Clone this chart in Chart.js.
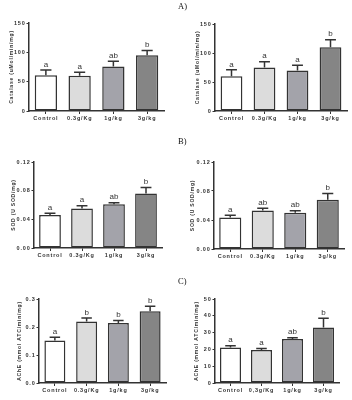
<!DOCTYPE html>
<html><head><meta charset="utf-8">
<script src="https://cdn.jsdelivr.net/npm/chart.js@4/dist/chart.umd.min.js"></script>
<style>
html,body{margin:0;padding:0;background:#fff;}
body{width:352px;height:400px;position:relative;overflow:hidden;}
canvas{position:absolute;}
</style></head><body>
<canvas id="c1" width="176" height="135" style="left:0;top:0"></canvas>
<canvas id="c2" width="176" height="135" style="left:176px;top:0"></canvas>
<canvas id="c3" width="176" height="135" style="left:0;top:135px"></canvas>
<canvas id="c4" width="176" height="135" style="left:176px;top:135px"></canvas>
<canvas id="c5" width="176" height="130" style="left:0;top:270px"></canvas>
<canvas id="c6" width="176" height="130" style="left:176px;top:270px"></canvas>
<script>
// ---- data ----
const categories = ['Control', '0.3g/Kg', '1g/kg', '3g/kg'];
const categoriesComma = ['Control', '0,3g/Kg', '1g/kg', '3g/kg'];

const catalaseLeftMean = [61, 60, 76, 95];
const catalaseLeftSem = [9, 6, 9, 8];
const catalaseLeftSig = ['a', 'a', 'ab', 'b'];

const catalaseRightMean = [60, 75, 70, 110];
const catalaseRightSem = [11, 10, 9, 13];
const catalaseRightSig = ['a', 'a', 'a', 'b'];

const sodLeftMean = [0.046, 0.055, 0.061, 0.076];
const sodLeftSem = [0.0024, 0.004, 0.0023, 0.0084];
const sodLeftSig = ['a', 'a', 'ab', 'b'];

const sodRightMean = [0.0435, 0.053, 0.050, 0.068];
const sodRightSem = [0.0032, 0.0032, 0.0027, 0.0087];
const sodRightSig = ['a', 'ab', 'ab', 'b'];

const acheLeftMean = [0.152, 0.220, 0.214, 0.256];
const acheLeftSem = [0.011, 0.012, 0.009, 0.018];
const acheLeftSig = ['a', 'b', 'b', 'b'];

const acheRightMean = [21.2, 19.6, 26.2, 33.1];
const acheRightSem = [1.0, 1.0, 0.8, 5.4];
const acheRightSig = ['a', 'a', 'ab', 'b'];

const catalaseTicks = ['0', '50', '100', '150'];
const sodTicks = ['0.00', '0.04', '0.08', '0.12'];
const acheLeftTicks = ['0.0', '0.1', '0.2', '0.3'];
const acheRightTicks = ['0', '10', '20', '30', '40', '50'];

const catalaseTitle = 'Catalase (uMol/min/mg)';
const sodTitle = 'SOD (U SOD/mg)';
const acheTitle = 'AChE (mmol ATC/min/mg)';
const panelLetters = ['A)', 'B)', 'C)'];

// ---- style ----
const barColors = ['#ffffff', '#dcdcdc', '#a3a3aa', '#858585'];
const ink = '#333333';

const errPlugin = {
  id: 'errbars',
  beforeUpdate(chart) { chart.ctx.letterSpacing = '0.8px'; },
  afterDatasetsDraw(chart) {
    const ctx = chart.ctx;
    const ys = chart.scales.y;
    const meta = chart.getDatasetMeta(0);
    const o = chart.options.plugins.errbars;
    ctx.save();
    ctx.letterSpacing = '0px';
    ctx.strokeStyle = ink;
    ctx.lineWidth = 1.5;
    ctx.fillStyle = ink;
    ctx.font = '8px "Liberation Sans", Arial, sans-serif';
    ctx.textAlign = 'center';
    ctx.textBaseline = 'bottom';
    meta.data.forEach((bar, i) => {
      const m = o.mean[i], s = o.sem[i];
      const yb = ys.getPixelForValue(m);
      const yt = ys.getPixelForValue(m + s);
      const cw = bar.width * 0.5;
      ctx.beginPath();
      ctx.moveTo(bar.x, yb);
      ctx.lineTo(bar.x, yt);
      ctx.moveTo(bar.x - cw / 2, yt);
      ctx.lineTo(bar.x + cw / 2, yt);
      ctx.stroke();
      ctx.fillText(o.sig[i], bar.x, yt - 1.5);
    });
    if (o.panel) {
      ctx.fillStyle = '#111';
      ctx.font = '8.5px "Liberation Serif", serif';
      ctx.textAlign = 'left';
      ctx.textBaseline = 'top';
      ctx.fillText(o.panel, 2, o.panelY);
    }
    ctx.restore();
  }
};

function panel(id, p) {
  const c = document.getElementById(id);
  const W = c.width, H = c.height;
  new Chart(c, {
    type: 'bar',
    data: {
      labels: p.labels,
      datasets: [{
        data: p.mean,
        backgroundColor: barColors,
        borderColor: ink,
        borderWidth: 1.5,
        borderSkipped: false,
        categoryPercentage: 1,
        barPercentage: p.bp
      }]
    },
    options: {
      responsive: false,
      animation: false,
      devicePixelRatio: 1,
      layout: { padding: { left: 0, top: p.T, right: W - p.R, bottom: 0 } },
      plugins: {
        legend: { display: false },
        tooltip: { enabled: false },
        errbars: { mean: p.mean, sem: p.sem, sig: p.sig, panel: p.panel, panelY: p.panelY }
      },
      scales: {
        x: {
          afterFit(s) { s.height = H - p.B; },
          border: { display: true, color: ink, width: 1.5 },
          grid: { display: true, drawOnChartArea: false, drawTicks: true, tickLength: 3, tickColor: ink, tickWidth: 1, offset: false },
          ticks: { color: ink, padding: 1, font: { family: '"Liberation Sans", Arial, sans-serif', size: 5.5, weight: 'bold' }, maxRotation: 0, autoSkip: false }
        },
        y: {
          min: 0, max: p.max,
          afterFit(s) { s.width = p.L; },
          border: { display: true, color: ink, width: 1.5 },
          grid: { display: true, drawOnChartArea: false, drawTicks: true, tickLength: 2.5, tickColor: ink, tickWidth: 1 },
          ticks: {
            stepSize: p.step, color: ink, padding: 1,
            font: { family: '"Liberation Sans", Arial, sans-serif', size: 5.5, weight: 'bold' },
            callback: (v) => p.ticks[Math.round(v / p.step)]
          },
          title: {
            display: true, text: p.title, color: ink,
            padding: { top: p.tp, bottom: 0 },
            font: { family: '"Liberation Sans", Arial, sans-serif', size: 5, weight: 'bold' }
          }
        }
      }
    },
    plugins: [errPlugin]
  });
}

panel('c1', { labels: categories, mean: catalaseLeftMean, sem: catalaseLeftSem, sig: catalaseLeftSig,
  max: 150, step: 50, ticks: catalaseTicks, title: catalaseTitle, L: 29, R: 164, T: 23, B: 111, bp: 0.66, tp: 9 });
panel('c2', { labels: categories, mean: catalaseRightMean, sem: catalaseRightSem, sig: catalaseRightSig,
  max: 150, step: 50, ticks: catalaseTicks, title: catalaseTitle, L: 39, R: 171, T: 24, B: 111, bp: 0.66, tp: 19,
  panel: panelLetters[0], panelY: 3 });
panel('c3', { labels: categories, mean: sodLeftMean, sem: sodLeftSem, sig: sodLeftSig,
  max: 0.12, step: 0.04, ticks: sodTicks, title: sodTitle, L: 34, R: 162, T: 27, B: 113, bp: 0.68, tp: 11 });
panel('c4', { labels: categories, mean: sodRightMean, sem: sodRightSem, sig: sodRightSig,
  max: 0.12, step: 0.04, ticks: sodTicks, title: sodTitle, L: 38, R: 168, T: 27, B: 114, bp: 0.68, tp: 14,
  panel: panelLetters[1], panelY: 3 });
panel('c5', { labels: categories, mean: acheLeftMean, sem: acheLeftSem, sig: acheLeftSig,
  max: 0.3, step: 0.1, ticks: acheLeftTicks, title: acheTitle, L: 39, R: 166, T: 29, B: 113, bp: 0.66, tp: 17 });
panel('c6', { labels: categoriesComma, mean: acheRightMean, sem: acheRightSem, sig: acheRightSig,
  max: 50, step: 10, ticks: acheRightTicks, title: acheTitle, L: 39, R: 163, T: 29, B: 113, bp: 0.68, tp: 18,
  panel: panelLetters[2], panelY: 8 });
</script>
</body></html>
